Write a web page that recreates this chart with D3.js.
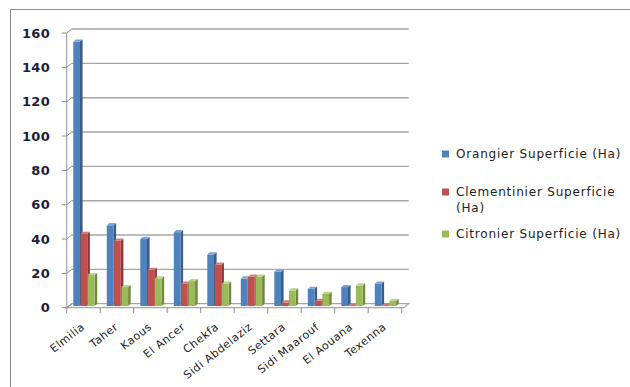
<!DOCTYPE html>
<html>
<head>
<meta charset="utf-8">
<script src="https://cdn.jsdelivr.net/npm/d3@7"></script>
<style>
  html, body { margin: 0; padding: 0; background: #fff; }
  svg { display: block; }
  text { font-family: "DejaVu Sans", Verdana, sans-serif; }
</style>
</head>
<body>
<svg id="chart" width="630" height="387"></svg>
<script>
// Surface (ha) of citrus orchards by commune
const communes = ["Elmilia", "Taher", "Kaous", "El Ancer", "Chekfa", "Sidi Abdelaziz",
                  "Settara", "Sidi Maarouf", "El Aouana", "Texenna"];
const orangier     = [154, 47, 39, 43, 30, 16, 20, 10, 11, 13];
const clementinier = [42, 38, 21, 13, 24, 17, 2, 3, 0.5, 0.5];
const citronier    = [18, 11, 16, 14.5, 13, 17, 9, 7, 12, 3];
const seriesNames  = ["Orangier Superficie (Ha)", "Clementinier Superficie (Ha)", "Citronier Superficie (Ha)"];
const yTicks       = [0, 20, 40, 60, 80, 100, 120, 140, 160];

const seriesValues = [orangier, clementinier, citronier];
const faces = [
  { front: "#4f81bd", side: "#385d8a", top: "#7ea3d3" },
  { front: "#c0504d", side: "#8c3836", top: "#d47c79" },
  { front: "#9bbb59", side: "#71893f", top: "#b9d285" }
];

const svg = d3.select("#chart");

// Outer chart frame (only its top and left edges fall inside the page)
svg.append("path")
  .attr("d", "M10.5,387 V9.5 H630")
  .attr("fill", "none").attr("stroke", "#8c8c8c").attr("stroke-width", 1);

// 3D geometry: the back wall sits up and to the right of the front axis
const depthX = 5, depthY = 4;
const barShiftY = 1.7;          // bars stand between front edge and back wall
const sideX = 2.6, sideY = 2.2; // bar bevel depth

const x0 = d3.scaleBand().domain(communes).range([66.7, 401.7]).paddingInner(0).paddingOuter(0);
const x1 = d3.scaleBand().domain(d3.range(3)).range([6.6, 6.6 + 21.9]).padding(0);
const barW = x1.bandwidth() - 0.6;
const y = d3.scaleLinear().domain([0, 160]).range([307.7, 33]);

const left = x0.range()[0], right = x0.range()[1];

// Back wall gridlines
const grid = svg.append("g");
grid.selectAll("line").data(yTicks.filter(d => d > 0)).join("line")
  .attr("x1", left + depthX).attr("x2", right + depthX + 2)
  .attr("y1", d => y(d) - depthY).attr("y2", d => y(d) - depthY)
  .attr("stroke", "#a6a6a6").attr("stroke-width", 1.4);

// Floor
const y0 = y(0);
svg.append("path")
  .attr("d", `M${left},${y0} L${left + depthX},${y0 - depthY} L${right + depthX + 2},${y0 - depthY} L${right + 2},${y0} Z`)
  .attr("fill", "#fff").attr("stroke", "#a6a6a6").attr("stroke-width", 1.2);

// Vertical axis: front line, outward ticks and the step back to the wall
const yAxis = svg.append("g");
yAxis.append("line")
  .attr("x1", left).attr("x2", left).attr("y1", y(160)).attr("y2", y0)
  .attr("stroke", "#a6a6a6").attr("stroke-width", 1.2);
yAxis.selectAll("path.tk").data(yTicks).join("path").attr("class", "tk")
  .attr("d", d => `M${left - 5},${y(d)} H${left} L${left + depthX},${y(d) - depthY}`)
  .attr("fill", "none").attr("stroke", "#8c8c8c").attr("stroke-width", 1);
yAxis.selectAll("text").data(yTicks).join("text")
  .attr("x", 50).attr("y", d => y(d)).attr("dy", "0.36em")
  .attr("text-anchor", "end")
  .attr("font-size", 13).attr("font-weight", "bold").attr("fill", "#1d1d3a")
  .attr("letter-spacing", 0.3)
  .text(d => d);

// Category ticks under the floor's front edge
const boundaries = communes.map(c => x0(c)).concat([right]);
svg.append("g").selectAll("line").data(boundaries).join("line")
  .attr("x1", d => d).attr("x2", d => d).attr("y1", y0).attr("y2", y0 + 5.5)
  .attr("stroke", "#8c8c8c").attr("stroke-width", 1);

// Bars, drawn as front face + right side + top bevel
const bars = svg.append("g");
communes.forEach((c, i) => {
  seriesValues.forEach((vals, s) => {
    const v = vals[i];
    const bx = x0(c) + x1(s);
    const base = y(0) - barShiftY;
    const top = y(v) - barShiftY;
    const col = faces[s];
    const g = bars.append("g");
    g.append("path")
      .attr("d", `M${bx + barW},${top} L${bx + barW + sideX},${top - sideY} L${bx + barW + sideX},${base - sideY} L${bx + barW},${base} Z`)
      .attr("fill", col.side);
    g.append("rect")
      .attr("x", bx).attr("y", top).attr("width", barW).attr("height", Math.max(0, base - top))
      .attr("fill", col.front);
    g.append("path")
      .attr("d", `M${bx},${top} L${bx + sideX},${top - sideY} L${bx + barW + sideX},${top - sideY} L${bx + barW},${top} Z`)
      .attr("fill", col.top);
  });
});

// Rotated category labels
svg.append("g").selectAll("text").data(communes).join("text")
  .attr("transform", d => `translate(${x0(d) + x0.bandwidth() / 2 + 2},${y0 + 20.5}) rotate(-38)`)
  .attr("text-anchor", "end")
  .attr("font-size", 11).attr("letter-spacing", 0.5).attr("fill", "#222")
  .text(d => d);

// Legend
const legendRows = [
  { lines: ["Orangier Superficie (Ha)"], y: 154 },
  { lines: ["Clementinier Superficie", "(Ha)"], y: 192 },
  { lines: ["Citronier Superficie (Ha)"], y: 234 }
];
const legend = svg.append("g");
legendRows.forEach((r, s) => {
  legend.append("rect")
    .attr("x", 442).attr("y", r.y - 3.5).attr("width", 7).attr("height", 7)
    .attr("fill", faces[s].front);
  const t = legend.append("text")
    .attr("x", 456).attr("y", r.y).attr("font-size", 12).attr("letter-spacing", 0.8).attr("fill", "#222");
  r.lines.forEach((ln, k) => {
    t.append("tspan").attr("x", 456).attr("dy", k === 0 ? "0.36em" : 16).text(ln);
  });
});
</script>
</body>
</html>
